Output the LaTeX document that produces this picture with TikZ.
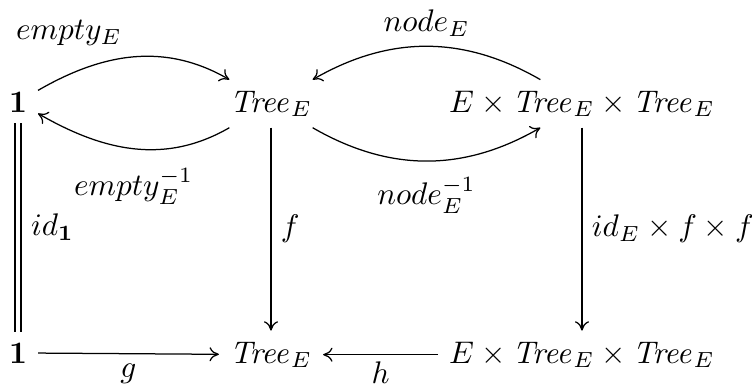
\documentclass[tikz,border=0pt]{standalone}
\usetikzlibrary{arrows.meta}
\newcommand{\TreeE}{\mathit{Tree}_E}
\begin{document}
\begin{tikzpicture}[x=0.32pt,y=0.32pt,
  obj/.style={inner sep=3.33pt, anchor=base},
  mor/.style={draw, -{To[length=3pt,width=4.5pt]}, line width=0.4pt},
  lab/.style={inner sep=2pt}]
\useasboundingbox (0,0) rectangle (752,-388);
\node[obj] (one1) at (18,-112) {$\mathbf{1}$};
\node[obj] (tree1) at (271,-112) {$\TreeE$};
\node[obj] (prod1) at (582,-112) {$E \times \TreeE \times \TreeE$};
\node[obj] (one2) at (18,-363) {$\mathbf{1}$};
\node[obj] (tree2) at (271,-363) {$\TreeE$};
\node[obj] (prod2) at (582,-363) {$E \times \TreeE \times \TreeE$};
% top curved arrows
\path[mor] (one1) to[out=30,in=150] node[lab, pos=0.16, above=7pt] {$empty_E$} (tree1);
\path[mor] (tree1) to[out=210,in=-30] node[lab, pos=0.5, below=4pt] {$empty_E^{-1}$} (one1);
\path[mor] (prod1) to[out=150,in=30] node[lab, pos=0.5, above=1pt] {$node_E$} (tree1);
\path[mor] (tree1) to[out=-30,in=210] node[lab, pos=0.5, below=3pt] {$node_E^{-1}$} (prod1);
% verticals
\draw[double, double distance=1.6pt, line width=0.4pt] (one1) -- node[lab, right=2pt] {$id_{\mathbf{1}}$} (one2);
\path[mor] (tree1) -- node[lab, right=1pt] {$f$} (tree2);
\path[mor] (prod1) -- node[lab, right=1pt] {$id_E \times f \times f$} (prod2);
% bottom
\path[mor] (one2) -- node[lab, below=1pt] {$g$} (tree2);
\path[mor] (prod2) -- node[lab, below=0pt] {$h$} (tree2);
\end{tikzpicture}
\end{document}
